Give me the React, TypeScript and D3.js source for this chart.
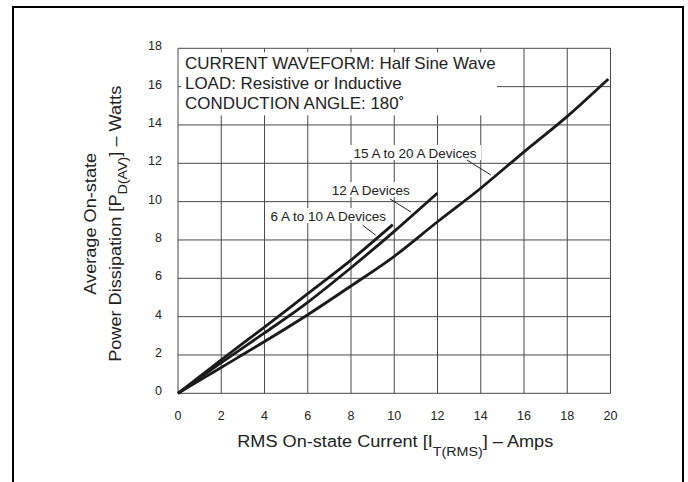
import React from "react";
import * as d3 from "d3";

const xTicks = [0, 2, 4, 6, 8, 10, 12, 14, 16, 18, 20];
const yTicks = [0, 2, 4, 6, 8, 10, 12, 14, 16, 18];

const curve6to10X = [0, 2, 4, 6, 8, 9.93];
const curve6to10Y = [0, 1.75, 3.45, 5.2, 6.95, 8.8];
const curve12X = [0, 2, 4, 6, 8, 10, 12];
const curve12Y = [0, 1.6, 3.15, 4.75, 6.55, 8.45, 10.45];
const curve15to20X = [0, 2, 4, 6, 8, 10, 12, 14, 16, 18, 19.9];
const curve15to20Y = [0, 1.35, 2.7, 4.1, 5.6, 7.15, 8.95, 10.7, 12.6, 14.45, 16.4];

const noteLines = [
  "CURRENT WAVEFORM: Half Sine Wave",
  "LOAD: Resistive or Inductive",
  "CONDUCTION ANGLE: 180˚",
];

const curveLabels = [
  { text: "15 A to 20 A Devices", lx: 10.96, ly: 12.54, x1: 13.36, y1: 12.17, x2: 14.47, y2: 11.39 },
  { text: "12 A Devices", lx: 8.91, ly: 10.6, x1: 9.8, y1: 10.14, x2: 10.77, y2: 9.46 },
  { text: "6 A to 10 A Devices", lx: 6.95, ly: 9.25, x1: 8.54, y1: 8.77, x2: 9.14, y2: 8.25 },
];

const W = 688;
const H = 482;
const FONT = "'Liberation Sans', Arial, Helvetica, sans-serif";
const TXT = "#222";
const GRID = "#4a4a4a";

export default function App() {
  const x = d3.scaleLinear().domain([0, 20]).range([178, 610.5]);
  const y = d3.scaleLinear().domain([0, 18]).range([393.3, 48.3]);

  const line = d3
    .line<[number, number]>()
    .x((d) => x(d[0]))
    .y((d) => y(d[1]))
    .curve(d3.curveMonotoneX);

  const series = [
    d3.zip(curve6to10X, curve6to10Y) as [number, number][],
    d3.zip(curve12X, curve12Y) as [number, number][],
    d3.zip(curve15to20X, curve15to20Y) as [number, number][],
  ];

  const maskX0 = x(0) + 3;
  const maskX1 = x(14.75);
  const maskY0 = y(18) + 4;
  const maskY1 = y(14.5);

  const yMid = (y(0) + y(18)) / 2 + 3;

  return (
    <svg
      width={W}
      height={H}
      style={{ position: "absolute", left: 0, top: 0, background: "#fff" }}
      fontFamily={FONT}
    >
      <rect x={0} y={0} width={W} height={H} fill="#fff" />
      <rect x={13} y={7} width={670} height={H + 20} fill="none" stroke="#000" strokeWidth={2} />

      {xTicks.map((t) => (
        <line key={"gx" + t} x1={x(t)} x2={x(t)} y1={y(0)} y2={y(18)} stroke={GRID} strokeWidth={1} />
      ))}
      {yTicks.map((t) => (
        <line key={"gy" + t} x1={x(0)} x2={x(20)} y1={y(t)} y2={y(t)} stroke={GRID} strokeWidth={1} />
      ))}

      <rect x={maskX0} y={maskY0} width={maskX1 - maskX0} height={maskY1 - maskY0} fill="#fff" />
      {noteLines.map((s, i) => (
        <g key={"n" + i} transform={`translate(185, ${69 + i * 20}) scale(1.06, 1)`}>
          <text x={0} y={0} fontSize={16} fill={TXT}>
            {s}
          </text>
        </g>
      ))}

      {series.map((s, i) => (
        <path key={"c" + i} d={line(s) || ""} fill="none" stroke="#1a1a1a" strokeWidth={2.8} strokeLinejoin="round" />
      ))}

      {curveLabels.map((c, i) => (
        <g key={"l" + i}>
          <rect
            x={x(c.lx) - c.text.length * 3.3}
            y={y(c.ly) - 8}
            width={c.text.length * 6.6}
            height={15}
            fill="#fff"
          />
          <text x={x(c.lx)} y={y(c.ly)} dy="0.36em" textAnchor="middle" fontSize={13.5} fill={TXT}>
            {c.text}
          </text>
          <line x1={x(c.x1)} y1={y(c.y1)} x2={x(c.x2)} y2={y(c.y2)} stroke="#222" strokeWidth={1} />
        </g>
      ))}

      {yTicks.map((t) => (
        <text key={"ty" + t} x={162} y={y(t) - 2.5} dy="0.36em" textAnchor="end" fontSize={12.5} fill={TXT}>
          {t}
        </text>
      ))}
      {xTicks.map((t) => (
        <text key={"tx" + t} x={x(t)} y={415} dy="0.36em" textAnchor="middle" fontSize={12.5} fill={TXT}>
          {t}
        </text>
      ))}

      <g transform={`translate(${(x(0) + x(20)) / 2 + 1}, 446.5) scale(1.1, 1)`}>
        <text x={0} y={0} textAnchor="middle" fontSize={16.5} fill={TXT}>
          RMS On-state Current [I
          <tspan fontSize={13} dy={9}>T(RMS)</tspan>
          <tspan dy={-9}>] – Amps</tspan>
        </text>
      </g>

      <g transform={`translate(96, ${yMid}) rotate(-90) scale(1.1, 1)`}>
        <text x={0} y={0} textAnchor="middle" fontSize={16.5} fill={TXT}>
          Average On-state
        </text>
      </g>
      <g transform={`translate(121, ${yMid}) rotate(-90) scale(1.1, 1)`}>
        <text x={0} y={0} textAnchor="middle" fontSize={16.5} fill={TXT}>
          Power Dissipation [P
          <tspan fontSize={13} dy={6}>D(AV)</tspan>
          <tspan dy={-6}>] – Watts</tspan>
        </text>
      </g>
    </svg>
  );
}
